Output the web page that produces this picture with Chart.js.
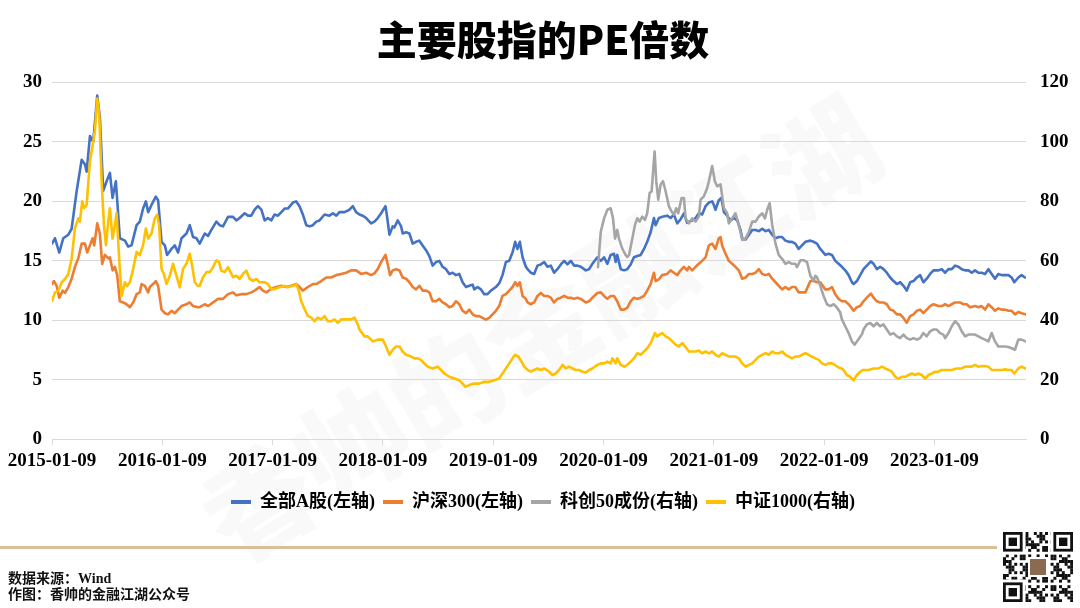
<!DOCTYPE html>
<html>
<head>
<meta charset="utf-8">
<script src="https://cdn.jsdelivr.net/npm/chart.js@4.4.1/dist/chart.umd.min.js"></script>
<style>
  html, body { margin: 0; padding: 0; background: #ffffff; }
  #wrap { position: relative; width: 1080px; height: 608px; overflow: hidden; background: #fff; }
  #c { position: absolute; left: 0; top: 0; }
  .rule { position: absolute; left: 0; top: 546px; width: 997px; height: 3px; background: #D9BE98; }
  .src { position: absolute; left: 8px; top: 571px; font-family: 'Liberation Serif', 'Noto Sans CJK SC', serif; font-weight: 700; font-size: 14px; line-height: 16px; color: #111; }
  #qr { position: absolute; left: 1003px; top: 532px; }
</style>
</head>
<body>
<div id="wrap">
  <canvas id="c" width="1080" height="608"></canvas>
  <div class="rule"></div>
  <div class="src">数据来源：Wind<br>作图：香帅的金融江湖公众号</div>
  <canvas id="qr" width="70" height="70"></canvas>
</div>
<script>
// ---- data: [years since 2015-01-09, PE] ----
const tickLabels = ['2015-01-09','2016-01-09','2017-01-09','2018-01-09','2019-01-09','2020-01-09','2021-01-09','2022-01-09','2023-01-09'];
const seriesNames = ['全部A股(左轴)','沪深300(左轴)','科创50成份(右轴)','中证1000(右轴)'];

const allA = [[0,16.45],[0.027,16.9],[0.066,15.7],[0.102,16.9],[0.148,17.2],[0.178,17.7],[0.224,20.9],[0.269,23.5],[0.299,23.1],[0.314,22.5],[0.344,25.5],[0.374,25.0],[0.410,28.9],[0.434,27.1],[0.464,20.9],[0.495,21.7],[0.525,22.4],[0.549,20.3],[0.579,21.7],[0.615,16.9],[0.661,16.7],[0.691,16.2],[0.721,16.3],[0.767,18.0],[0.796,18.3],[0.826,19.4],[0.851,20.0],[0.872,19.1],[0.902,19.7],[0.941,20.4],[0.962,20.1],[0.993,16.6],[1.023,16.3],[1.043,15.5],[1.083,16.0],[1.113,16.3],[1.143,15.7],[1.174,16.9],[1.219,17.3],[1.249,18.0],[1.279,17.0],[1.310,16.9],[1.339,16.45],[1.385,17.3],[1.415,17.1],[1.445,17.6],[1.490,18.3],[1.520,18.0],[1.550,17.9],[1.596,18.7],[1.641,18.7],[1.671,18.4],[1.701,18.6],[1.747,19.0],[1.777,18.8],[1.807,18.8],[1.837,19.3],[1.867,19.6],[1.898,19.3],[1.928,18.4],[1.957,18.6],[1.988,18.4],[2.018,18.9],[2.048,18.8],[2.079,19.1],[2.109,19.4],[2.138,19.4],[2.184,19.9],[2.214,20.0],[2.244,19.6],[2.274,18.9],[2.305,18.0],[2.335,17.9],[2.365,18.0],[2.396,18.3],[2.425,18.4],[2.471,18.9],[2.516,18.8],[2.546,19.0],[2.577,18.8],[2.606,19.1],[2.652,19.1],[2.697,19.3],[2.727,19.6],[2.757,19.1],[2.787,18.9],[2.817,18.8],[2.848,18.6],[2.893,18.15],[2.923,18.3],[2.953,18.6],[2.984,19.0],[3.023,19.6],[3.035,18.9],[3.059,17.2],[3.089,17.9],[3.104,17.8],[3.134,18.4],[3.165,17.9],[3.179,17.3],[3.210,17.4],[3.240,17.3],[3.270,16.45],[3.300,16.6],[3.330,16.7],[3.360,16.3],[3.391,15.9],[3.421,15.4],[3.451,14.6],[3.481,14.9],[3.511,15.0],[3.541,14.5],[3.572,14.3],[3.602,13.9],[3.632,14.0],[3.662,13.8],[3.692,13.9],[3.722,13.2],[3.753,12.8],[3.783,12.9],[3.813,13.0],[3.828,12.6],[3.858,12.8],[3.889,12.6],[3.919,12.2],[3.948,12.2],[3.979,12.5],[4.024,12.8],[4.054,13.1],[4.084,13.8],[4.115,14.9],[4.145,15.0],[4.175,15.7],[4.199,16.6],[4.219,16.0],[4.241,16.6],[4.266,15.3],[4.296,14.5],[4.311,14.3],[4.341,14.0],[4.371,13.9],[4.401,14.6],[4.432,14.7],[4.462,14.9],[4.492,14.5],[4.522,14.6],[4.552,14.0],[4.582,14.3],[4.613,14.7],[4.643,15.0],[4.673,14.7],[4.703,15.0],[4.733,14.6],[4.763,14.6],[4.794,14.5],[4.839,14.2],[4.869,14.3],[4.899,14.75],[4.944,15.3],[4.975,15.0],[5.005,15.3],[5.035,14.75],[5.065,15.5],[5.095,15.6],[5.110,14.9],[5.124,15.5],[5.156,14.3],[5.186,14.2],[5.215,14.3],[5.246,14.7],[5.276,15.3],[5.306,15.4],[5.337,15.5],[5.367,16.0],[5.396,16.6],[5.427,17.4],[5.457,18.6],[5.472,18.0],[5.502,18.6],[5.532,18.7],[5.577,18.8],[5.608,18.6],[5.638,18.9],[5.668,18.15],[5.699,18.5],[5.729,19.0],[5.758,18.2],[5.774,18.3],[5.804,18.4],[5.835,18.6],[5.864,19.0],[5.894,18.9],[5.925,19.6],[5.955,19.9],[5.985,20.0],[6.000,19.7],[6.015,19.3],[6.045,20.1],[6.068,20.3],[6.091,19.1],[6.121,18.8],[6.152,18.4],[6.182,18.6],[6.212,18.4],[6.242,17.6],[6.257,16.9],[6.288,16.8],[6.318,17.2],[6.348,17.6],[6.378,17.6],[6.408,17.5],[6.439,17.7],[6.469,17.5],[6.499,17.6],[6.529,17.2],[6.559,16.9],[6.589,17.0],[6.619,17.0],[6.649,16.7],[6.679,16.6],[6.709,16.6],[6.739,16.45],[6.769,16.0],[6.799,16.3],[6.830,16.6],[6.875,16.7],[6.905,16.6],[6.935,16.45],[6.965,16.0],[7.011,15.5],[7.040,15.6],[7.071,15.5],[7.101,15.0],[7.131,14.75],[7.161,14.5],[7.191,14.2],[7.222,13.8],[7.252,13.2],[7.267,13.05],[7.297,13.3],[7.327,13.8],[7.357,14.3],[7.387,14.6],[7.424,14.95],[7.448,14.75],[7.478,14.3],[7.508,14.5],[7.538,14.3],[7.568,14.0],[7.599,13.6],[7.629,13.3],[7.659,13.05],[7.689,13.2],[7.719,12.9],[7.749,12.5],[7.780,13.2],[7.810,13.3],[7.840,13.6],[7.870,13.8],[7.900,13.2],[7.930,13.5],[7.961,13.9],[7.991,14.2],[8.036,14.2],[8.066,14.3],[8.097,14.0],[8.127,14.3],[8.157,14.3],[8.187,14.6],[8.217,14.5],[8.247,14.3],[8.278,14.2],[8.308,14.2],[8.338,14.0],[8.368,14.2],[8.398,14.0],[8.428,14.0],[8.459,13.9],[8.489,14.3],[8.519,13.9],[8.549,13.5],[8.579,13.9],[8.609,13.8],[8.640,13.8],[8.670,13.8],[8.700,13.6],[8.724,13.2],[8.760,13.6],[8.790,13.8],[8.821,13.6]];

const hs300 = [[0,13.05],[0.018,13.3],[0.042,12.9],[0.066,11.9],[0.097,12.5],[0.118,12.3],[0.148,12.8],[0.178,13.5],[0.208,14.5],[0.238,15.2],[0.269,16.45],[0.299,16.45],[0.319,15.7],[0.344,16.3],[0.368,16.9],[0.383,16.3],[0.410,18.15],[0.434,17.3],[0.455,14.75],[0.480,15.5],[0.510,15.2],[0.525,15.3],[0.549,14.2],[0.570,14.5],[0.591,13.8],[0.615,11.6],[0.645,11.5],[0.676,11.35],[0.706,11.1],[0.736,11.5],[0.767,12.2],[0.796,12.35],[0.812,13.05],[0.842,12.9],[0.872,12.35],[0.887,12.8],[0.917,13.05],[0.941,13.3],[0.962,12.9],[0.993,10.9],[1.023,10.6],[1.052,10.5],[1.083,10.8],[1.113,10.6],[1.143,10.9],[1.174,11.2],[1.219,11.35],[1.249,11.5],[1.279,11.2],[1.323,11.1],[1.339,11.1],[1.385,11.35],[1.415,11.2],[1.460,11.5],[1.505,11.8],[1.550,11.8],[1.596,12.2],[1.641,12.35],[1.671,12.1],[1.717,12.2],[1.762,12.2],[1.807,12.35],[1.837,12.5],[1.882,12.8],[1.912,12.5],[1.943,12.35],[1.988,12.65],[2.033,12.8],[2.079,12.9],[2.124,12.8],[2.169,12.9],[2.214,13.05],[2.244,12.8],[2.274,12.5],[2.320,12.8],[2.365,13.05],[2.396,13.05],[2.441,13.3],[2.486,13.6],[2.531,13.6],[2.577,13.8],[2.622,13.9],[2.667,14.0],[2.712,14.2],[2.757,14.2],[2.803,13.9],[2.848,14.0],[2.893,13.8],[2.923,13.95],[2.953,14.3],[2.984,14.9],[3.023,15.5],[3.044,14.7],[3.065,13.8],[3.089,14.2],[3.120,14.3],[3.150,14.2],[3.179,13.6],[3.210,13.5],[3.240,13.2],[3.270,12.8],[3.300,12.6],[3.330,12.9],[3.360,12.5],[3.391,12.5],[3.421,12.35],[3.451,11.6],[3.481,11.6],[3.511,11.8],[3.541,11.5],[3.572,11.35],[3.602,11.1],[3.632,11.2],[3.662,11.6],[3.692,11.35],[3.722,10.8],[3.753,10.6],[3.783,10.9],[3.813,10.5],[3.843,10.35],[3.873,10.35],[3.903,10.2],[3.933,10.05],[3.964,10.2],[3.994,10.5],[4.024,10.8],[4.054,11.2],[4.084,12.05],[4.115,12.2],[4.145,12.5],[4.175,12.8],[4.199,13.2],[4.219,12.9],[4.241,13.2],[4.266,12.05],[4.296,11.8],[4.311,11.5],[4.341,11.35],[4.371,11.5],[4.401,12.05],[4.432,12.3],[4.462,12.05],[4.492,12.05],[4.522,11.9],[4.552,11.5],[4.582,11.8],[4.613,11.9],[4.643,12.05],[4.673,11.9],[4.703,11.9],[4.733,11.8],[4.763,11.9],[4.794,11.8],[4.839,11.5],[4.869,11.6],[4.899,11.9],[4.944,12.3],[4.975,12.35],[5.005,12.05],[5.035,11.8],[5.065,12.05],[5.095,12.05],[5.124,11.6],[5.156,10.9],[5.186,10.9],[5.215,11.05],[5.246,11.6],[5.276,11.9],[5.306,11.8],[5.337,11.9],[5.367,12.05],[5.396,12.5],[5.427,13.05],[5.457,14.0],[5.472,13.3],[5.502,13.45],[5.532,13.8],[5.577,13.9],[5.608,14.2],[5.638,14.0],[5.668,13.8],[5.699,14.2],[5.729,14.5],[5.758,14.2],[5.774,14.5],[5.804,14.2],[5.835,14.5],[5.864,14.75],[5.894,15.0],[5.925,15.3],[5.955,16.3],[5.985,16.45],[6.015,16.0],[6.045,16.9],[6.061,17.0],[6.075,16.3],[6.106,15.6],[6.136,15.0],[6.166,14.75],[6.196,14.5],[6.226,14.2],[6.257,13.5],[6.288,13.6],[6.318,13.9],[6.348,13.9],[6.378,14.0],[6.408,14.3],[6.439,13.9],[6.469,13.8],[6.499,13.9],[6.529,13.5],[6.559,13.2],[6.589,12.9],[6.619,12.6],[6.649,12.8],[6.679,12.6],[6.709,12.8],[6.739,12.8],[6.769,12.35],[6.799,12.35],[6.830,12.35],[6.875,13.3],[6.905,13.3],[6.935,13.2],[6.965,13.2],[7.011,12.6],[7.040,12.6],[7.071,12.8],[7.101,12.2],[7.131,11.8],[7.161,11.6],[7.191,11.6],[7.222,11.35],[7.252,11.0],[7.267,10.8],[7.297,11.1],[7.327,11.2],[7.357,11.6],[7.387,11.9],[7.424,12.25],[7.448,11.9],[7.478,11.6],[7.508,11.5],[7.538,11.5],[7.568,11.35],[7.599,10.9],[7.629,10.8],[7.659,10.5],[7.689,10.5],[7.719,10.2],[7.749,9.8],[7.780,10.35],[7.810,10.5],[7.840,10.8],[7.870,10.9],[7.900,10.6],[7.930,10.9],[7.961,11.2],[7.991,11.35],[8.036,11.2],[8.066,11.2],[8.097,11.35],[8.127,11.2],[8.157,11.35],[8.187,11.5],[8.232,11.5],[8.262,11.35],[8.292,11.35],[8.323,11.1],[8.368,11.2],[8.398,11.1],[8.428,11.2],[8.459,10.9],[8.489,11.35],[8.519,11.1],[8.549,10.8],[8.579,11.0],[8.609,10.9],[8.640,10.9],[8.670,10.8],[8.700,10.8],[8.730,10.5],[8.760,10.7],[8.790,10.6],[8.824,10.5]];

const kc50 = [[4.950,57.9],[4.975,69.8],[5.005,74.3],[5.035,77.2],[5.065,77.7],[5.086,74.3],[5.104,67.5],[5.125,70.4],[5.140,67.5],[5.170,64.1],[5.201,61.9],[5.215,61.3],[5.231,61.9],[5.261,67.5],[5.285,72.1],[5.306,74.3],[5.327,73.2],[5.351,74.9],[5.376,73.8],[5.396,76.0],[5.418,82.8],[5.436,83.4],[5.463,96.8],[5.478,86.8],[5.496,80.6],[5.518,85.7],[5.539,86.8],[5.563,83.4],[5.593,78.3],[5.617,76.6],[5.638,75.5],[5.659,77.7],[5.677,76.0],[5.707,81.1],[5.729,81.1],[5.744,74.3],[5.774,72.6],[5.804,74.3],[5.835,73.2],[5.864,74.9],[5.880,80.6],[5.910,81.7],[5.940,84.5],[5.955,86.8],[5.985,91.9],[6.009,86.8],[6.030,85.1],[6.061,85.7],[6.091,77.7],[6.121,76.0],[6.136,72.6],[6.166,74.3],[6.196,76.0],[6.226,72.1],[6.257,67.0],[6.288,67.5],[6.318,69.8],[6.348,73.2],[6.378,73.2],[6.408,74.9],[6.439,76.0],[6.463,74.3],[6.484,77.2],[6.506,79.4],[6.529,72.1],[6.559,65.8],[6.589,61.9],[6.619,60.7],[6.649,59.0],[6.679,59.6],[6.709,59.0],[6.739,59.0],[6.754,57.9],[6.785,60.2],[6.814,60.2],[6.845,59.6],[6.875,55.0],[6.905,53.3],[6.920,55.0],[6.935,54.5],[6.965,51.6],[6.995,48.2],[7.026,45.4],[7.056,44.8],[7.086,45.4],[7.116,44.3],[7.146,42.6],[7.161,40.3],[7.191,38.0],[7.222,35.7],[7.252,32.9],[7.276,31.8],[7.297,32.9],[7.318,34.0],[7.342,35.2],[7.357,36.9],[7.387,38.6],[7.418,39.1],[7.448,38.0],[7.478,39.1],[7.508,38.0],[7.538,38.6],[7.568,36.9],[7.599,35.2],[7.629,35.7],[7.659,34.6],[7.689,34.0],[7.719,35.2],[7.749,34.0],[7.780,33.5],[7.810,34.0],[7.840,33.5],[7.870,34.0],[7.900,35.7],[7.930,34.6],[7.961,36.3],[7.991,36.9],[8.021,36.9],[8.051,35.7],[8.081,35.2],[8.097,34.0],[8.127,35.7],[8.157,38.0],[8.187,39.7],[8.217,38.6],[8.247,36.3],[8.278,34.6],[8.308,35.2],[8.338,35.2],[8.368,35.2],[8.398,34.6],[8.428,34.0],[8.459,33.5],[8.489,32.9],[8.519,35.7],[8.549,32.9],[8.579,31.2],[8.609,31.2],[8.640,31.2],[8.670,31.0],[8.700,30.6],[8.730,30.1],[8.760,33.5],[8.790,33.5],[8.826,32.9]];

const zz1000 = [[0,46.5],[0.027,49.4],[0.057,49.9],[0.088,52.8],[0.118,53.9],[0.148,55.6],[0.178,60.7],[0.208,70.9],[0.238,74.3],[0.253,73.2],[0.274,80.0],[0.292,77.7],[0.314,78.9],[0.344,93.6],[0.368,98.7],[0.389,103.8],[0.410,114.6],[0.428,109.5],[0.450,86.8],[0.471,72.1],[0.489,65.3],[0.510,73.2],[0.525,77.7],[0.549,67.5],[0.570,72.1],[0.586,76.0],[0.609,60.7],[0.631,48.2],[0.661,52.8],[0.681,51.6],[0.706,52.8],[0.736,57.3],[0.767,63.0],[0.796,61.9],[0.826,65.3],[0.851,70.9],[0.872,67.5],[0.902,69.2],[0.932,74.3],[0.953,75.5],[0.971,72.1],[0.993,57.3],[1.014,55.6],[1.038,52.2],[1.068,55.0],[1.098,59.0],[1.128,55.0],[1.158,51.1],[1.188,57.3],[1.219,59.0],[1.249,62.4],[1.273,57.9],[1.294,52.8],[1.323,51.6],[1.339,51.6],[1.369,54.5],[1.400,56.2],[1.430,56.2],[1.460,57.9],[1.490,60.2],[1.514,59.6],[1.535,56.7],[1.566,56.2],[1.596,57.9],[1.626,55.6],[1.641,54.5],[1.671,55.0],[1.701,53.9],[1.731,55.6],[1.762,56.7],[1.792,53.9],[1.822,53.3],[1.852,53.9],[1.882,52.8],[1.928,52.8],[1.957,52.2],[1.988,50.5],[2.018,50.5],[2.063,51.1],[2.109,51.6],[2.138,51.1],[2.184,51.6],[2.214,52.2],[2.238,49.9],[2.259,46.5],[2.290,43.7],[2.320,41.4],[2.350,40.9],[2.380,39.7],[2.410,40.9],[2.441,40.3],[2.471,41.4],[2.501,39.7],[2.531,39.7],[2.561,40.3],[2.591,39.1],[2.622,40.3],[2.667,40.3],[2.712,40.3],[2.742,40.9],[2.772,38.6],[2.787,36.9],[2.833,34.6],[2.862,34.6],[2.893,33.5],[2.908,32.9],[2.953,33.5],[2.998,33.5],[3.029,31.2],[3.059,28.4],[3.089,30.1],[3.120,31.2],[3.150,31.2],[3.179,29.5],[3.210,28.4],[3.255,27.8],[3.285,27.2],[3.315,27.2],[3.345,26.7],[3.375,25.5],[3.406,24.4],[3.451,23.8],[3.496,24.4],[3.526,23.3],[3.557,22.1],[3.602,21.0],[3.647,20.4],[3.692,19.8],[3.722,18.7],[3.747,17.6],[3.783,18.2],[3.828,18.7],[3.873,18.7],[3.919,19.3],[3.964,19.3],[4.009,19.8],[4.054,20.4],[4.084,22.1],[4.115,23.8],[4.145,25.5],[4.175,27.2],[4.199,28.4],[4.229,27.8],[4.266,25.5],[4.281,24.4],[4.311,23.3],[4.341,22.7],[4.371,23.3],[4.401,23.8],[4.432,23.3],[4.462,23.8],[4.507,22.7],[4.537,21.6],[4.567,22.1],[4.597,23.3],[4.628,25.0],[4.658,23.8],[4.688,24.4],[4.718,23.8],[4.748,23.3],[4.778,23.3],[4.809,22.7],[4.839,22.4],[4.869,23.3],[4.899,23.8],[4.944,25.0],[4.975,25.5],[5.005,25.5],[5.035,26.1],[5.065,25.5],[5.080,27.2],[5.110,25.5],[5.124,27.2],[5.156,25.0],[5.186,24.4],[5.215,25.0],[5.246,26.1],[5.276,27.2],[5.306,28.9],[5.337,28.4],[5.367,29.5],[5.396,30.6],[5.427,32.3],[5.466,35.7],[5.487,34.6],[5.508,35.2],[5.532,35.7],[5.563,34.6],[5.593,34.0],[5.623,32.9],[5.653,31.8],[5.683,31.2],[5.713,32.3],[5.744,31.0],[5.774,29.5],[5.804,29.5],[5.835,29.5],[5.864,29.8],[5.894,28.9],[5.925,29.5],[5.955,28.9],[5.985,29.5],[6.015,28.4],[6.045,27.8],[6.075,28.9],[6.106,28.4],[6.136,27.8],[6.166,27.8],[6.196,27.8],[6.226,27.2],[6.257,25.5],[6.288,24.4],[6.318,25.0],[6.348,25.5],[6.378,26.7],[6.408,27.8],[6.439,28.4],[6.469,28.9],[6.499,28.4],[6.529,29.5],[6.559,28.9],[6.589,28.9],[6.619,29.5],[6.649,28.4],[6.679,27.8],[6.709,27.2],[6.739,27.8],[6.769,27.8],[6.799,28.4],[6.830,28.9],[6.860,28.4],[6.890,27.8],[6.920,27.2],[6.950,26.7],[6.980,25.5],[7.011,25.0],[7.040,25.5],[7.071,25.5],[7.101,24.9],[7.131,24.1],[7.161,23.8],[7.176,23.3],[7.206,21.6],[7.237,21.0],[7.267,19.8],[7.297,21.6],[7.327,22.7],[7.357,23.3],[7.403,23.3],[7.448,23.8],[7.493,23.8],[7.524,24.4],[7.554,23.8],[7.584,23.3],[7.614,22.7],[7.644,21.0],[7.674,20.4],[7.704,21.0],[7.735,21.0],[7.765,21.6],[7.795,22.1],[7.825,21.6],[7.855,22.1],[7.885,21.6],[7.915,20.4],[7.946,21.6],[7.976,22.1],[8.006,22.7],[8.036,22.7],[8.066,23.3],[8.111,23.3],[8.157,23.3],[8.202,23.8],[8.247,23.8],[8.278,24.4],[8.308,24.4],[8.338,24.4],[8.368,25.0],[8.398,24.4],[8.428,24.6],[8.459,24.6],[8.489,24.4],[8.519,23.3],[8.549,23.3],[8.579,23.3],[8.609,23.3],[8.640,23.5],[8.670,23.3],[8.700,23.3],[8.724,22.1],[8.760,23.8],[8.790,24.4],[8.826,23.8]];

const colors = ['#4472C4', '#ED7D31', '#A5A5A5', '#FFC000'];

const toXY = arr => arr.map(([x, y]) => ({ x, y }));
const SERIF = "'Liberation Serif', 'Noto Sans CJK SC', serif";

const watermark = {
  id: 'watermark',
  beforeDraw(chart) {
    const ctx = chart.ctx;
    ctx.save();
    ctx.translate(540, 330);
    ctx.rotate(-0.55);
    ctx.font = "900 110px 'Noto Sans CJK SC'";
    ctx.fillStyle = 'rgba(0,0,0,0.022)';
    ctx.textAlign = 'center';
    ctx.textBaseline = 'middle';
    ctx.fillText('香帅的金融江湖', 0, 0);
    ctx.restore();
  }
};

new Chart(document.getElementById('c'), {
  type: 'line',
  data: {
    datasets: [
      { label: seriesNames[0], data: toXY(allA),  yAxisID: 'yL', borderColor: colors[0], backgroundColor: colors[0], order: 3 },
      { label: seriesNames[1], data: toXY(hs300), yAxisID: 'yL', borderColor: colors[1], backgroundColor: colors[1], order: 2 },
      { label: seriesNames[2], data: toXY(kc50),  yAxisID: 'yR', borderColor: colors[2], backgroundColor: colors[2], order: 1 },
      { label: seriesNames[3], data: toXY(zz1000), yAxisID: 'yR', borderColor: colors[3], backgroundColor: colors[3], order: 0 }
    ]
  },
  options: {
    responsive: false,
    animation: false,
    elements: {
      line: { borderWidth: 2.6, tension: 0, borderCapStyle: 'round', borderJoinStyle: 'round' },
      point: { radius: 0, hoverRadius: 0 }
    },
    layout: { padding: { top: 16, left: 12, right: 6, bottom: 87 } },
    scales: {
      x: {
        type: 'linear',
        min: 0,
        max: 8.83,
        border: { display: true, color: '#D9D9D9', width: 1 },
        grid: { drawOnChartArea: false, drawTicks: true, tickLength: 6, color: '#D9D9D9' },
        ticks: {
          stepSize: 1,
          includeBounds: false,
          autoSkip: false,
          maxRotation: 0,
          padding: 4,
          color: '#000',
          font: { family: SERIF, size: 19, weight: 'bold' },
          callback: v => (Number.isInteger(v) && tickLabels[v] !== undefined) ? tickLabels[v] : ''
        },
        afterFit: s => { s.height += 9; }
      },
      yL: {
        position: 'left',
        min: 0, max: 30,
        border: { display: false },
        grid: { color: '#D9D9D9', drawTicks: false, lineWidth: 1 },
        ticks: { stepSize: 5, padding: 10, color: '#000', font: { family: SERIF, size: 19, weight: 'bold' } },
        afterFit: s => { s.width = 40; }
      },
      yR: {
        position: 'right',
        min: 0, max: 120,
        border: { display: false },
        grid: { drawOnChartArea: false, drawTicks: false },
        ticks: { stepSize: 20, padding: 14, color: '#000', font: { family: SERIF, size: 19, weight: 'bold' } },
        afterFit: s => { s.width = 48; }
      }
    },
    plugins: {
      title: {
        display: true,
        text: '主要股指的PE倍数',
        color: '#000',
        font: { family: "'Noto Sans CJK SC'", size: 40, weight: '900' },
        padding: { top: 0, bottom: 18.5 }
      },
      legend: {
        position: 'bottom',
        labels: {
          boxWidth: 20,
          boxHeight: 4,
          padding: 8,
          color: '#000',
          font: { family: SERIF, size: 18, weight: 'bold' },
          sort: (a, b) => a.datasetIndex - b.datasetIndex,
          generateLabels: chart => Chart.defaults.plugins.legend.labels.generateLabels(chart).map(it => Object.assign(it, { lineWidth: 0, fillStyle: it.strokeStyle }))
        }
      },
      tooltip: { enabled: false }
    }
  },
  plugins: [watermark]
});

// decorative QR-style mark in the footer
(function () {
  const q = document.getElementById('qr').getContext('2d');
  const n = 25, s = 70 / n;
  q.fillStyle = '#fff'; q.fillRect(0, 0, 70, 70);
  q.fillStyle = '#111';
  for (let r = 0; r < n; r++) for (let c = 0; c < n; c++) {
    if (((r * 31 + c * 17 + r * c * 7) % 11) < 5) q.fillRect(c * s, r * s, s + 0.2, s + 0.2);
  }
  const finder = (x, y) => {
    q.fillStyle = '#111'; q.fillRect(x * s, y * s, 7 * s, 7 * s);
    q.fillStyle = '#fff'; q.fillRect((x + 1) * s, (y + 1) * s, 5 * s, 5 * s);
    q.fillStyle = '#111'; q.fillRect((x + 2) * s, (y + 2) * s, 3 * s, 3 * s);
  };
  q.fillStyle = '#fff';
  q.fillRect(0, 0, 8 * s, 8 * s); q.fillRect((n - 8) * s, 0, 8 * s, 8 * s); q.fillRect(0, (n - 8) * s, 8 * s, 8 * s);
  finder(0, 0); finder(n - 7, 0); finder(0, n - 7);
  q.fillStyle = '#fff'; q.fillRect(25, 25, 20, 20);
  q.fillStyle = '#8a6a50'; q.fillRect(27, 27, 16, 16);
})();
</script>
</body>
</html>
